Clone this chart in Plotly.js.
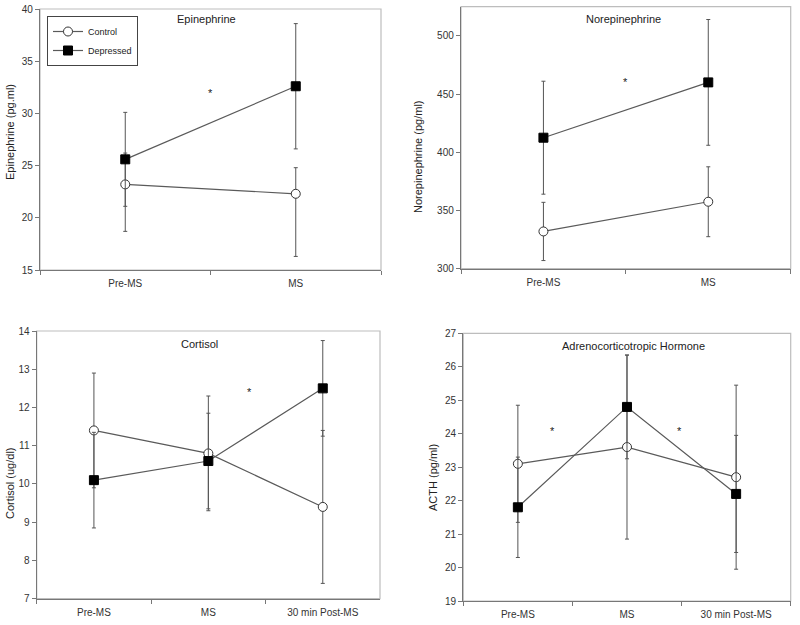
<!DOCTYPE html>
<html>
<head>
<meta charset="utf-8">
<script src="https://cdn.plot.ly/plotly-3.0.1.min.js"></script>
<style>html,body{margin:0;padding:0;background:#fff;}#chart{width:800px;height:625px;}</style>
</head>
<body>
<div id="chart"></div>
<script>
// ---- data ----
const cats2 = ['Pre-MS', 'MS'];
const cats3 = ['Pre-MS', 'MS', '30 min Post-MS'];

const epiControl = [23.2, 22.3];
const epiControlPlus = [3.0, 2.5];
const epiControlMinus = [4.5, 6.0];
const epiDepressed = [25.6, 32.6];
const epiDepressedErr = [4.5, 6.0];

const neControl = [332, 357.5];
const neControlErr = [25, 30];
const neDepressed = [412.5, 460];
const neDepressedErr = [48.5, 54];

const cortControl = [11.4, 10.8, 9.4];
const cortControlErr = [1.5, 1.5, 2.0];
const cortDepressed = [10.1, 10.6, 12.5];
const cortDepressedErr = [1.25, 1.25, 1.25];

const acthControl = [23.1, 23.6, 22.7];
const acthControlErr = [1.75, 2.75, 2.75];
const acthDepressed = [21.8, 24.8, 22.2];
const acthDepressedErr = [1.5, 1.55, 1.75];

// significance markers: [x index position, y value]
const epiStars = [[0.5, 32.0]];
const neStars = [[0.5, 460.5]];
const cortStars = [[1.36, 12.4]];
const acthStars = [[0.32, 24.08], [1.48, 24.08]];

const panelTitles = ['Epinephrine', 'Norepinephrine', 'Cortisol', 'Adrenocorticotropic Hormone'];
const yTitles = ['Epinephrine (pg.ml)', 'Norepinephrine (pg/ml)', 'Cortisol (ug/dl)', 'ACTH (pg/ml)'];
const seriesNames = ['Control', 'Depressed'];

// ---- styles ----
const FONT = 'Liberation Sans, Arial, sans-serif';
const lineCol = '#5a5a5a';
const errCol = '#555';

function ctrlTrace(x, y, plus, minus, xa, ya, show) {
  return {
    x: x, y: y, xaxis: xa, yaxis: ya, type: 'scatter', mode: 'lines+markers',
    name: seriesNames[0], showlegend: show, legendrank: 1,
    line: {color: lineCol, width: 1.2},
    marker: {symbol: 'circle', size: 9, color: '#fff', line: {color: '#333', width: 1}},
    error_y: {type: 'data', symmetric: false, array: plus, arrayminus: minus, color: errCol, thickness: 1, width: 2}
  };
}
function depTrace(x, y, plus, minus, xa, ya, show) {
  return {
    x: x, y: y, xaxis: xa, yaxis: ya, type: 'scatter', mode: 'lines+markers',
    name: seriesNames[1], showlegend: show, legendrank: 2,
    line: {color: lineCol, width: 1.2},
    marker: {symbol: 'square', size: 9, color: '#000', line: {color: '#000', width: 1}},
    error_y: {type: 'data', symmetric: false, array: plus, arrayminus: minus, color: errCol, thickness: 1, width: 2}
  };
}

const data = [
  ctrlTrace(cats2, epiControl, epiControlPlus, epiControlMinus, 'x', 'y', true),
  depTrace(cats2, epiDepressed, epiDepressedErr, epiDepressedErr, 'x', 'y', true),
  ctrlTrace(cats2, neControl, neControlErr, neControlErr, 'x2', 'y2', false),
  depTrace(cats2, neDepressed, neDepressedErr, neDepressedErr, 'x2', 'y2', false),
  ctrlTrace(cats3, cortControl, cortControlErr, cortControlErr, 'x3', 'y3', false),
  depTrace(cats3, cortDepressed, cortDepressedErr, cortDepressedErr, 'x3', 'y3', false),
  ctrlTrace(cats3, acthControl, acthControlErr, acthControlErr, 'x4', 'y4', false),
  depTrace(cats3, acthDepressed, acthDepressedErr, acthDepressedErr, 'x4', 'y4', false)
];

function xax(domain, anchor, n) {
  return {
    domain: domain, anchor: anchor, type: 'category', range: [-0.5, n - 0.5],
    showline: true, linecolor: '#777', linewidth: 1.2, ticks: 'outside', ticklen: 4,
    tickcolor: '#777', tickson: 'boundaries', showgrid: false, zeroline: false,
    tickfont: {family: FONT, size: 10, color: '#333'}, ticklabelstandoff: 4, fixedrange: true
  };
}
function yax(domain, anchor, range, dtick) {
  return {
    domain: domain, anchor: anchor, range: range, dtick: dtick,
    showline: true, linecolor: '#777', linewidth: 1.2, ticks: 'outside', ticklen: 4,
    tickcolor: '#777', showgrid: false, zeroline: false,
    tickfont: {family: FONT, size: 10, color: '#333'}, fixedrange: true
  };
}

const dom = {
  x1: [40/800, 381/800], y1: [1 - 270/625, 1 - 9/625],
  x2: [461/800, 790.7/800], y2: [1 - 268.7/625, 1 - 6.7/625],
  x3: [36.7/800, 380/800], y3: [1 - 598.7/625, 1 - 331/625],
  x4: [463.3/800, 790.7/800], y4: [1 - 601/625, 1 - 333.3/625]
};

const annotations = [];
// panel titles
const titlePos = [[206, 19], [623, 19], [199, 344], [633, 346]];
titlePos.forEach((p, i) => annotations.push({
  text: panelTitles[i], xref: 'paper', yref: 'paper', x: p[0]/800, y: 1 - p[1]/625,
  showarrow: false, xanchor: 'center', yanchor: 'middle',
  font: {family: FONT, size: 11, color: '#222'}
}));
// y titles
const yTitlePos = [[10, 132], [418, 157], [10, 483], [433, 478]];
yTitlePos.forEach((p, i) => annotations.push({
  text: yTitles[i], xref: 'paper', yref: 'paper', x: p[0]/800, y: 1 - p[1]/625,
  showarrow: false, textangle: -90, xanchor: 'center', yanchor: 'middle',
  font: {family: FONT, size: 11, color: '#222'}
}));
// stars
[[epiStars, 'x', 'y'], [neStars, 'x2', 'y2'], [cortStars, 'x3', 'y3'], [acthStars, 'x4', 'y4']].forEach(s => {
  s[0].forEach(p => annotations.push({
    text: '*', xref: s[1], yref: s[2], x: p[0], y: p[1], showarrow: false,
    xanchor: 'center', yanchor: 'middle', font: {family: FONT, size: 11, color: '#222'}
  }));
});

// light frames (top/right)
const shapes = [['x', 'y'], ['x2', 'y2'], ['x3', 'y3'], ['x4', 'y4']].map(a => ({
  type: 'rect', xref: a[0] + ' domain', yref: a[1] + ' domain', x0: 0, x1: 1, y0: 0, y1: 1,
  line: {color: '#bdbdbd', width: 1.2}, layer: 'below'
}));

const layout = {
  width: 800, height: 625, margin: {l: 0, r: 0, t: 0, b: 0},
  paper_bgcolor: '#fff', plot_bgcolor: '#fff',
  font: {family: FONT, color: '#222'},
  showlegend: true,
  legend: {
    x: 47/800, y: 1 - 16/625, xanchor: 'left', yanchor: 'top',
    bgcolor: '#fff', bordercolor: '#444', borderwidth: 1,
    font: {family: FONT, size: 9, color: '#222'}, tracegroupgap: 0,
    itemwidth: 30
  },
  xaxis: xax(dom.x1, 'y', 2), yaxis: yax(dom.y1, 'x', [15, 40], 5),
  xaxis2: xax(dom.x2, 'y2', 2), yaxis2: yax(dom.y2, 'x2', [300, 525], 50),
  xaxis3: xax(dom.x3, 'y3', 3), yaxis3: yax(dom.y3, 'x3', [7, 14], 1),
  xaxis4: xax(dom.x4, 'y4', 3), yaxis4: yax(dom.y4, 'x4', [19, 27], 1),
  annotations: annotations, shapes: shapes
};

Plotly.newPlot('chart', data, layout, {displayModeBar: false, staticPlot: true});
</script>
</body>
</html>
